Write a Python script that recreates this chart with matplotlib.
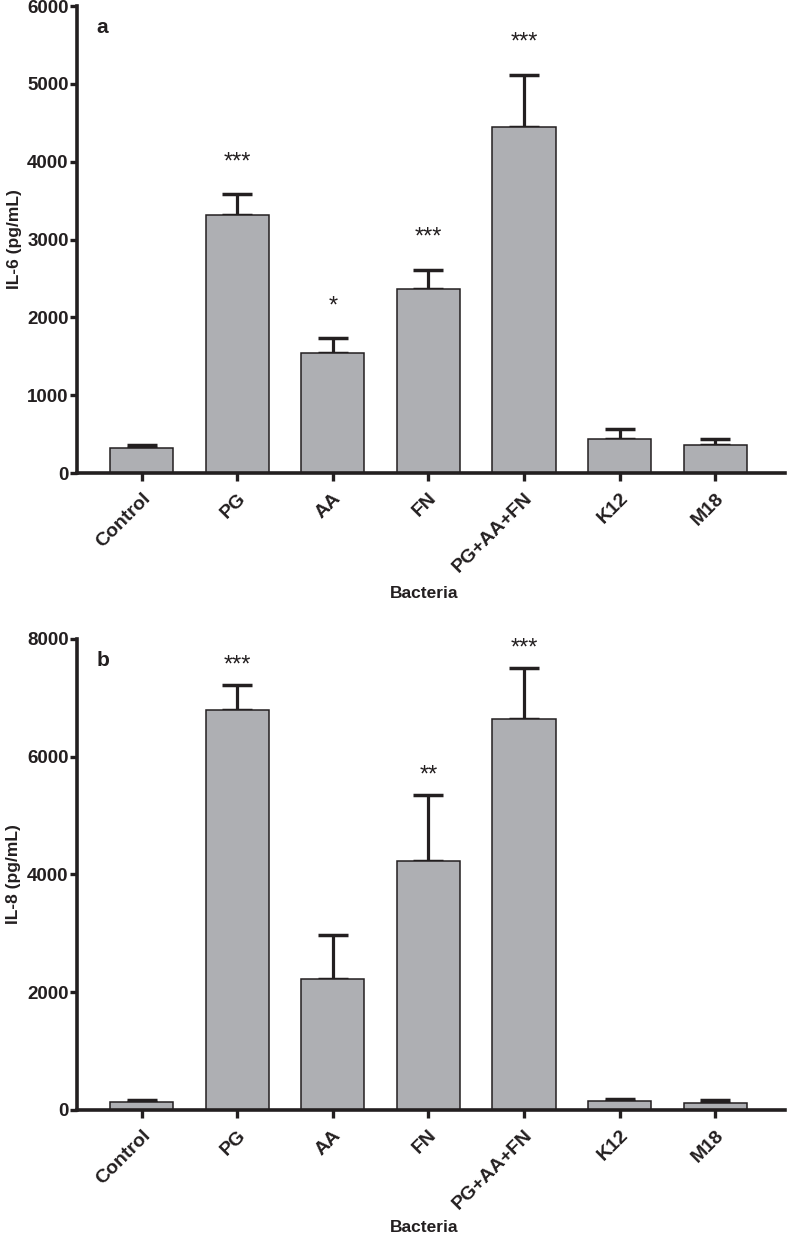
import matplotlib
matplotlib.use('Agg')
import matplotlib.pyplot as plt
import numpy as np

plt.rcParams['font.family'] = ['Liberation Sans', 'DejaVu Sans']

bacteria = ['Control', 'PG', 'AA', 'FN', 'PG+AA+FN', 'K12', 'M18']

# IL-6 (pg/mL): means and upper error (mean + SD)
il6_mean = [320, 3320, 1540, 2370, 4450, 440, 360]
il6_err = [40, 260, 190, 245, 670, 130, 80]
il6_stars = ['', '***', '*', '***', '***', '', '']

# IL-8 (pg/mL)
il8_mean = [140, 6800, 2220, 4230, 6640, 155, 120]
il8_err = [25, 420, 750, 1120, 870, 35, 50]
il8_stars = ['', '***', '', '**', '***', '', '']

bar_color = '#aeafb3'
ink = '#231f20'

fig = plt.figure(figsize=(7.88, 12.37), dpi=100)
ax1 = fig.add_axes([0.0977, 0.6176, 0.8985, 0.3775])
ax2 = fig.add_axes([0.0977, 0.1027, 0.8985, 0.3808])

panels = [
    (ax1, il6_mean, il6_err, il6_stars, 'IL-6 (pg/mL)', 6000, 1000, 'a', 15, -0.242),
    (ax2, il8_mean, il8_err, il8_stars, 'IL-8 (pg/mL)', 8000, 2000, 'b', 6, -0.2335),
]

x = np.arange(len(bacteria))
for ax, mean, err, stars, ylab, ymax, ystep, letter, star_off, xlab_y in panels:
    ax.bar(x, mean, width=0.66, color=bar_color, edgecolor=ink, lw=1.1, zorder=2)
    ax.errorbar(x, mean, yerr=[np.zeros(len(err)), err], fmt='none', ecolor=ink,
                elinewidth=2.3, capsize=11, capthick=2.5, zorder=1)
    for xi, m, e, s in zip(x, mean, err, stars):
        if s:
            ax.annotate(s, (xi, m + e), xytext=(0, star_off), textcoords='offset points',
                        ha='center', va='bottom', fontsize=17, color=ink)

    ax.set_xlim(-0.675, 6.73)
    ax.set_ylim(0, ymax)
    ax.set_yticks(np.arange(0, ymax + 1, ystep))
    ax.set_xticks(x)
    ax.set_xticklabels(bacteria, rotation=45, ha='right', rotation_mode='anchor',
                       fontweight='bold', fontsize=14)
    for lab in ax.get_yticklabels():
        lab.set_fontweight('bold')
        lab.set_fontsize(13.5)

    for side in ['top', 'right']:
        ax.spines[side].set_visible(False)
    for side in ['left', 'bottom']:
        ax.spines[side].set_linewidth(2.6)
        ax.spines[side].set_color(ink)
    ax.tick_params(axis='both', direction='out', width=2.4, color=ink, labelcolor=ink)
    ax.tick_params(axis='x', length=6, pad=6)
    ax.tick_params(axis='y', length=5, pad=1)

    ax.set_ylabel(ylab, fontweight='bold', fontsize=12.5, color=ink, labelpad=4)
    ax.set_xlabel('Bacteria', fontweight='bold', fontsize=12.5, color=ink)
    ax.xaxis.set_label_coords(0.49, xlab_y)
    ax.text(0.028, 0.942, letter, transform=ax.transAxes, fontweight='bold',
            fontsize=15, color=ink, va='baseline')

fig.savefig('out.png', dpi=100)
